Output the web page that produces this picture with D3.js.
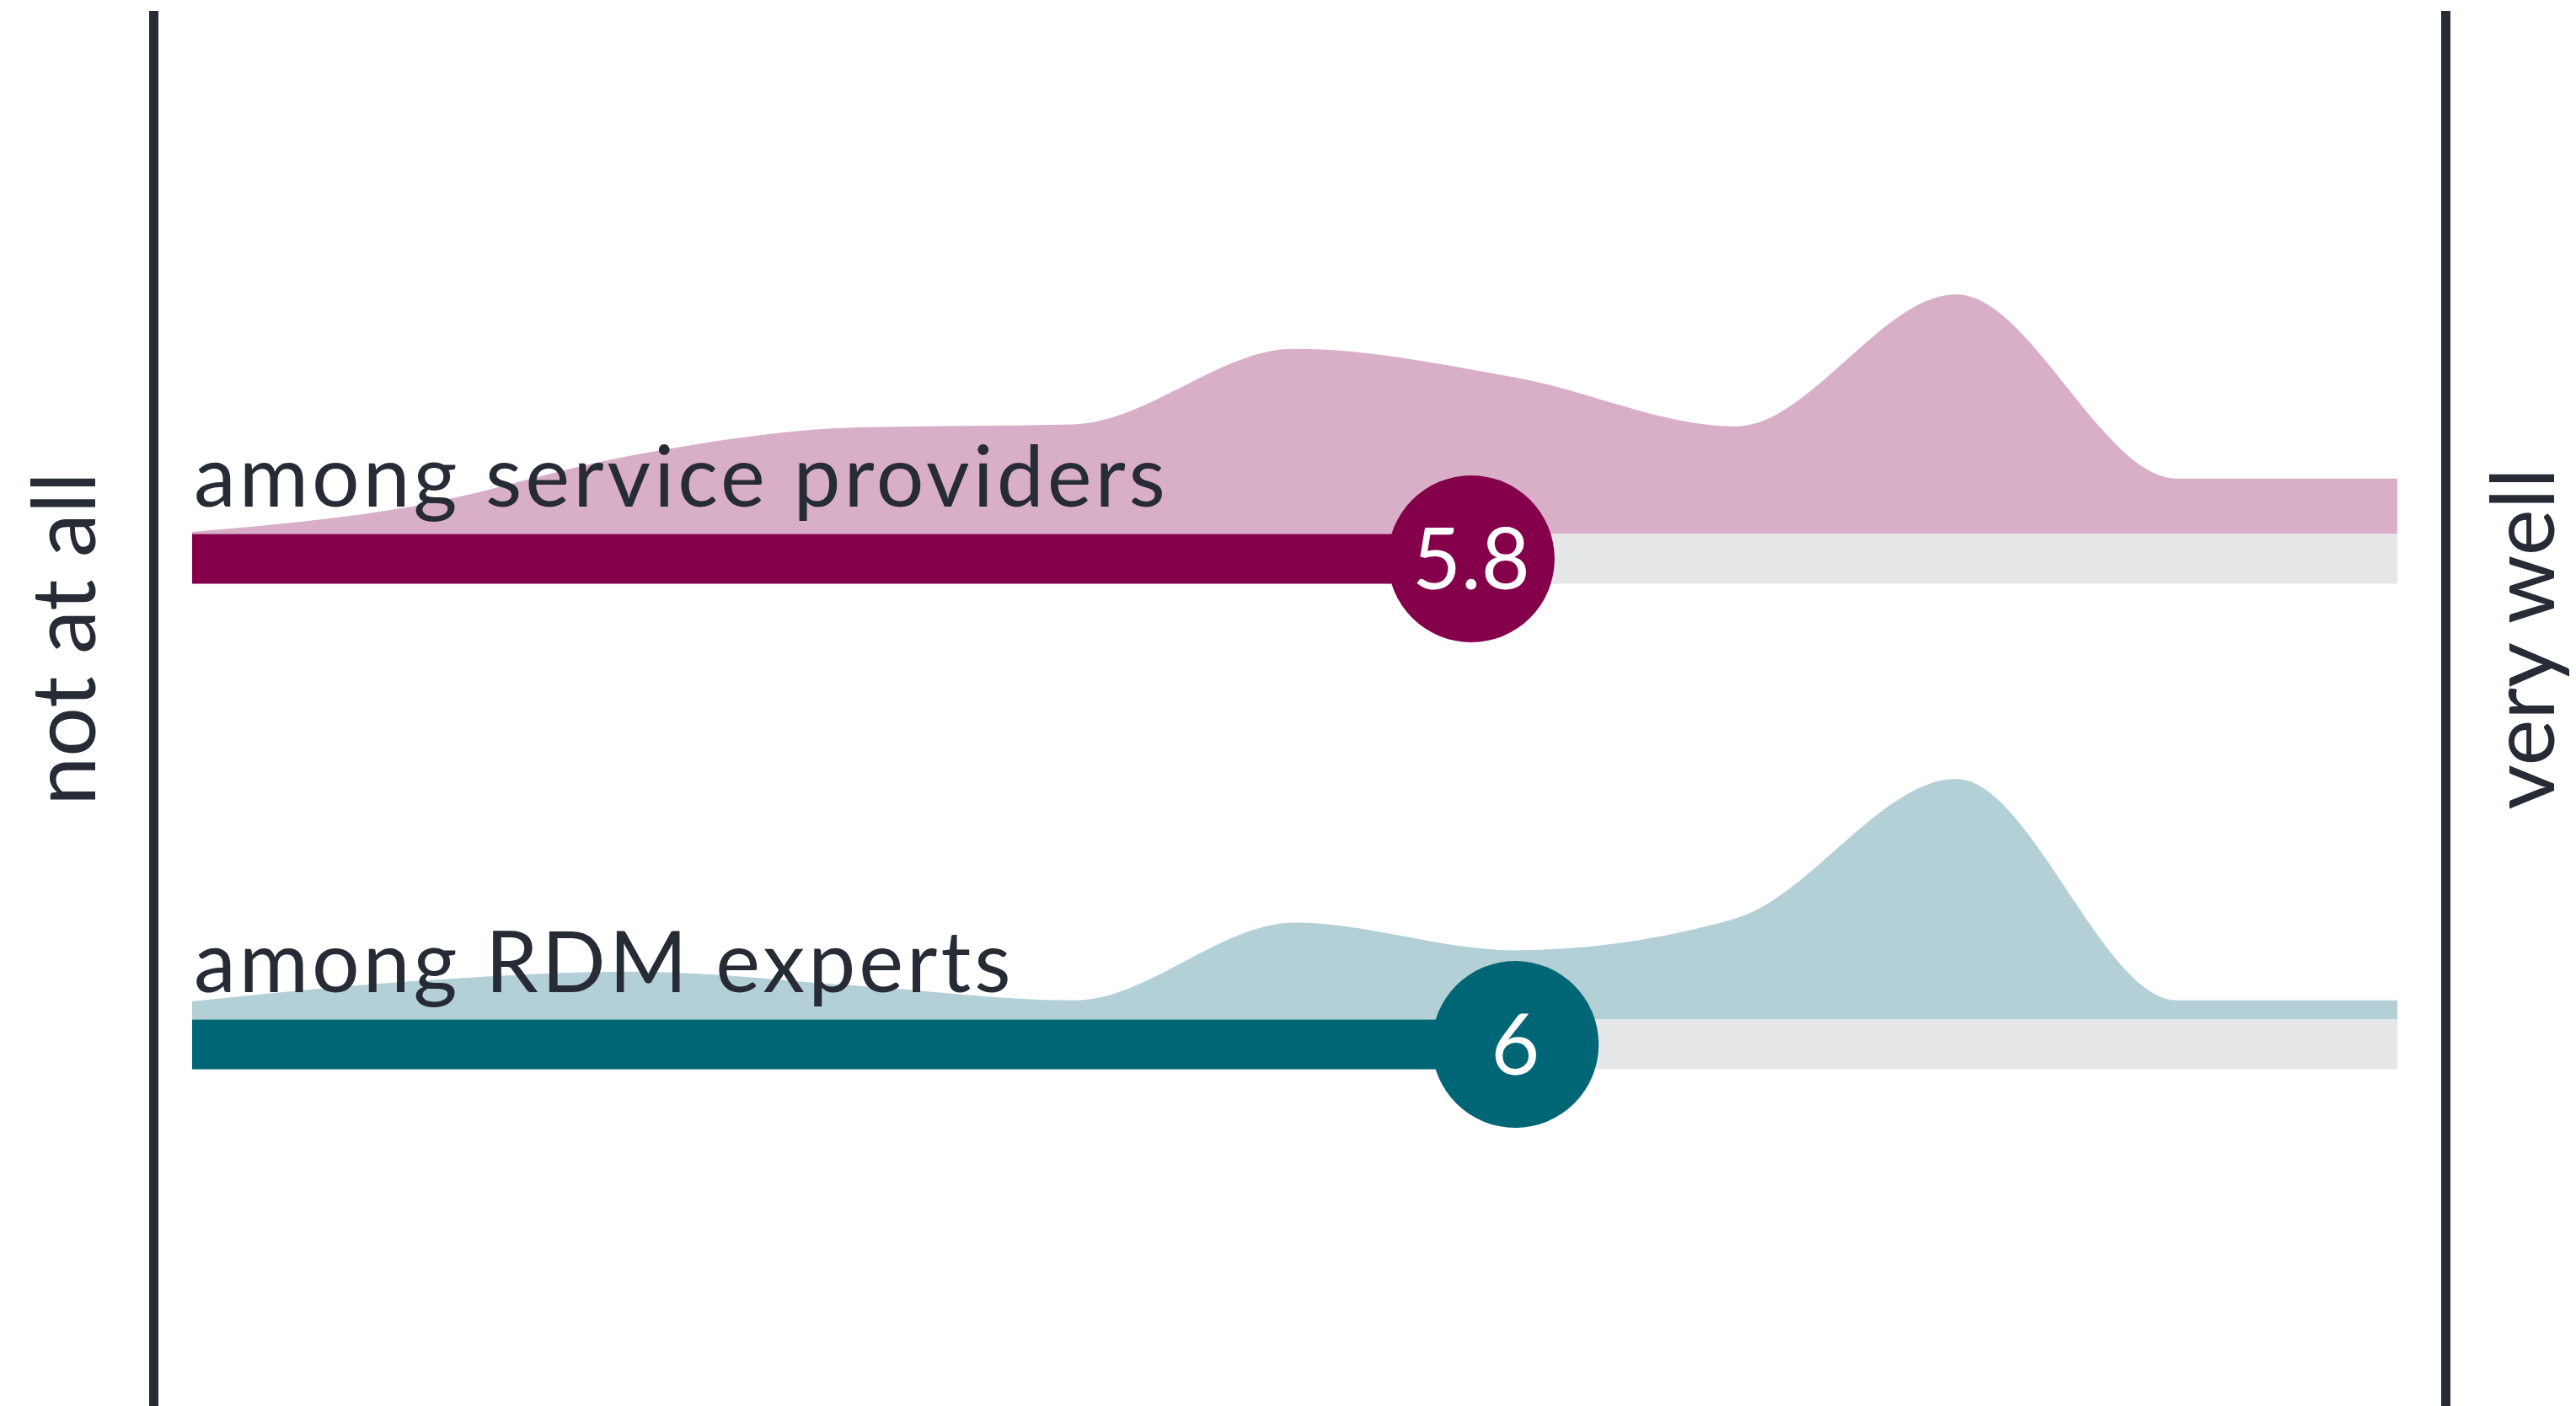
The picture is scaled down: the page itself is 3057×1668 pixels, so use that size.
<!DOCTYPE html>
<html>
<head>
<meta charset="utf-8">
<script src="https://cdn.jsdelivr.net/npm/d3@7"></script>
<style>
    html, body { margin: 0; padding: 0; background: #ffffff; }
    svg { display: block; }
    text { font-family: Lato, "Open Sans", sans-serif; }
</style>
</head>
<body>
<div id="content"></div>
<script>
// rating scale 0..10
const scores = [0, 1, 2, 3, 4, 5, 6, 7, 8, 9, 10];
const groups = ["among service providers", "among RDM experts"];
const means = [5.8, 6];
// distribution of answers per score (share)
const providerShare = [0.2, 2.6, 7.4, 10.0, 10.3, 17.4, 14.7, 10.1, 22.5, 5.2, 5.2];
const expertShare = [1.7, 3.6, 4.5, 3.2, 1.8, 9.1, 6.5, 9.5, 22.6, 1.8, 1.8];
const axisLabels = ["not at all", "very well"];

const darkColors = ["#85004b", "#006675"];
const lightColors = ["#d8afc7", "#b3d0d7"];
const trackColor = "#e6e7e9";
const inkColor = "#262b35";

const width = 3057, height = 1668;
const barH = 59;
const radius = 99;

let svg = d3.select("#content").append("svg")
    .attr("width", width)
    .attr("height", height);

let x = d3.scaleLinear().domain([0, 10]).range([228, 2845]);
let row = d3.scalePoint().domain(groups).range([663, 1239]);
let h = d3.scaleLinear().domain([0, 30]).range([0, 379]);

let rows = groups.map((g, i) => ({
    name: g,
    mean: means[i],
    share: i === 0 ? providerShare : expertShare,
    dark: darkColors[i],
    light: lightColors[i]
}));

// frame lines left and right
svg.append("g")
    .selectAll("line")
    .data([0, 10])
    .enter().append("line")
    .attr("x1", (d, i) => i === 0 ? x(d) - 45.5 : x(d) + 57.5)
    .attr("x2", (d, i) => i === 0 ? x(d) - 45.5 : x(d) + 57.5)
    .attr("y1", 13)
    .attr("y2", height)
    .attr("stroke", inkColor)
    .attr("stroke-width", 11);

// end labels, rotated
svg.append("g")
    .selectAll("text")
    .data(axisLabels)
    .enter().append("text")
    .attr("transform", (d, i) => `translate(${i === 0 ? 113 : 3031},758) rotate(-90)`)
    .attr("text-anchor", "middle")
    .style("font-size", "104px")
    .attr("fill", inkColor)
    .text(d => d);

let area = d3.area()
    .x((d, i) => x(scores[i]))
    .curve(d3.curveMonotoneX);

let g = svg.selectAll("g.row")
    .data(rows)
    .enter().append("g")
    .attr("class", "row")
    .attr("transform", d => `translate(0,${row(d.name)})`);

g.append("path")
    .attr("d", d => area.y0(-barH / 2).y1(v => -barH / 2 - h(v))(d.share))
    .attr("fill", d => d.light);

g.append("rect")
    .attr("x", x(0))
    .attr("y", -barH / 2)
    .attr("width", x(10) - x(0))
    .attr("height", barH)
    .attr("fill", trackColor);

g.append("rect")
    .attr("x", x(0))
    .attr("y", -barH / 2)
    .attr("width", d => x(d.mean) - x(0))
    .attr("height", barH)
    .attr("fill", d => d.dark);

g.append("text")
    .attr("x", x(0) + 2)
    .attr("y", -barH / 2 - 33)
    .style("font-size", "100px")
    .style("letter-spacing", "4px")
    .attr("fill", inkColor)
    .text(d => d.name);

g.append("circle")
    .attr("cx", d => x(d.mean))
    .attr("cy", 0)
    .attr("r", radius)
    .attr("fill", d => d.dark);

g.append("text")
    .attr("x", d => x(d.mean))
    .attr("y", 0)
    .attr("dy", "0.36em")
    .attr("text-anchor", "middle")
    .style("font-size", "100px")
    .attr("fill", "#ffffff")
    .text(d => d3.format("~g")(d.mean));
</script>
</body>
</html>
